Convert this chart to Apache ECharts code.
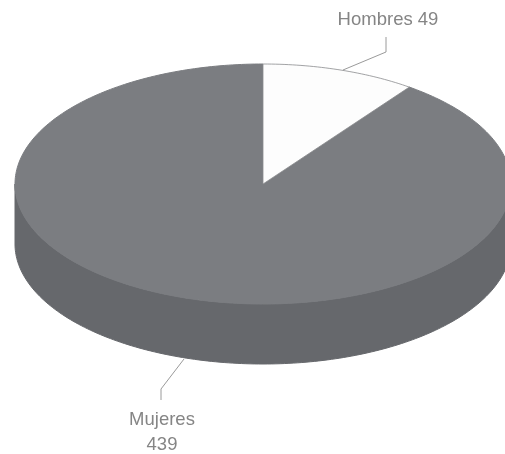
<!DOCTYPE html>
<html>
<head>
<meta charset="utf-8">
<style>html,body{margin:0;padding:0;background:#fff}#c{width:505px;height:454px}</style>
<script src="https://cdn.jsdelivr.net/npm/echarts@6/dist/echarts.min.js"></script>
</head>
<body>
<div id="c"></div>
<script>
const categories = ['Hombres', 'Mujeres'];
const values = [49, 439];
const labelTexts = ['Hombres 49', 'Mujeres\n439'];

const CX = 263, CY = 184, RX = 248, RY = 120, DEPTH = 60;
const topFill = ['#fdfdfd', '#7b7d81'];
const sideFill = '#66686c';
const labelPos = [[388, 20], [162, 432]];
const leaders = [
  [[386, 37], [386, 52], [343, 70]],
  [[161, 400], [161, 389], [184, 359]]
];
const total = values.reduce((a, b) => a + b, 0);

function pt(deg, dy) {
  const r = deg * Math.PI / 180;
  return [CX + RX * Math.sin(r), CY - RY * Math.cos(r) + (dy || 0)];
}
function arc(from, to, dy) {
  const out = [];
  const steps = Math.max(2, Math.ceil(Math.abs(to - from)));
  for (let i = 0; i <= steps; i++) out.push(pt(from + (to - from) * i / steps, dy));
  return out;
}

function renderItem(params, api) {
  const i = params.dataIndex;
  let start = 0;
  for (let k = 0; k < i; k++) start += values[k];
  const a0 = start / total * 360;
  const a1 = a0 + api.value(1) / total * 360;
  const children = [];
  const s0 = Math.max(a0, 90), s1 = Math.min(a1, 270);
  if (s1 > s0) {
    children.push({
      type: 'polygon',
      shape: { points: arc(s0, s1, 0).concat(arc(s1, s0, DEPTH)) },
      style: { fill: sideFill, stroke: sideFill, lineWidth: 1 }
    });
  }
  const isLight = i === 0;
  children.push({
    type: 'polygon',
    shape: { points: [[CX, CY]].concat(arc(a0, a1, 0)) },
    style: {
      fill: topFill[i],
      stroke: isLight ? '#8a8c8e' : topFill[i],
      lineWidth: isLight ? 0.8 : 1
    },
    z2: isLight ? 2 : 1
  });
  children.push({
    type: 'polyline',
    shape: { points: leaders[i] },
    style: { fill: null, stroke: '#9a9a9a', lineWidth: 1 },
    z2: 3
  });
  children.push({
    type: 'text',
    x: labelPos[i][0],
    y: labelPos[i][1],
    style: {
      text: labelTexts[i],
      fill: '#858585',
      font: '18.5px "Liberation Sans", sans-serif',
      align: 'center',
      verticalAlign: 'middle',
      lineHeight: 25
    },
    z2: 4
  });
  return { type: 'group', children };
}

const chart = echarts.init(document.getElementById('c'), null, { renderer: 'canvas' });
chart.setOption({
  animation: false,
  backgroundColor: '#fff',
  series: [{
    type: 'custom',
    coordinateSystem: 'none',
    renderItem,
    data: categories.map((c, i) => ({ name: c, value: [i, values[i]] })),
    silent: true,
    clip: false
  }]
});
</script>
</body>
</html>
